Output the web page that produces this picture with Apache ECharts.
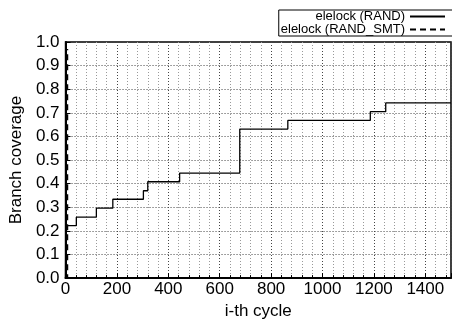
<!DOCTYPE html>
<html>
<head>
<meta charset="utf-8">
<script src="https://cdn.jsdelivr.net/npm/echarts@6/dist/echarts.min.js"></script>
<style>html,body{margin:0;padding:0;background:#fff}#c{width:452px;height:325px}</style>
</head>
<body>
<div id="c"></div>
<script>
// Data
var randCycles = [0, 1, 42, 120, 184, 303, 320, 444, 678, 865, 1186, 1246, 1500];
var randCoverage = [0, 0.222, 0.258, 0.296, 0.334, 0.37, 0.408, 0.445, 0.631, 0.668, 0.705, 0.742, 0.742];
var smtCycles = [0, 8, 8];
var smtCoverage = [0, 0, 0.97];
var seriesNames = ['elelock (RAND)', 'elelock (RAND_SMT)'];
var yTicks = ['0.0','0.1','0.2','0.3','0.4','0.5','0.6','0.7','0.8','0.9','1.0'];

function pairs(xs, ys) { return xs.map(function (x, i) { return [x, ys[i]]; }); }

var chart = echarts.init(document.getElementById('c'), null, {renderer: 'canvas'});
var font = 'Liberation Sans, Arial, sans-serif';
chart.setOption({
  animation: false,
  backgroundColor: '#fff',
  grid: {left: 64, right: 1, top: 42, bottom: 41, show: true, borderColor: '#000', borderWidth: 1.5, backgroundColor: 'transparent'},
  legend: {
    data: seriesNames,
    orient: 'vertical',
    align: 'right',
    right: -8,
    top: 10,
    itemGap: 0,
    itemWidth: 35,
    itemHeight: 12,
    padding: [0, 14, 0, 2],
    borderColor: '#000',
    borderWidth: 1,
    itemStyle: {color: 'transparent', borderWidth: 0, opacity: 0},
    textStyle: {fontFamily: font, fontSize: 13, color: '#000', lineHeight: 12}
  },
  xAxis: {
    type: 'value', min: 0, max: 1500, interval: 200,
    name: 'i-th cycle', nameLocation: 'middle', nameGap: 24,
    nameTextStyle: {fontFamily: font, fontSize: 17, color: '#000'},
    axisLine: {show: true, onZero: false, lineStyle: {color: '#000', width: 2}},
    axisTick: {show: true, inside: true, length: 5, lineStyle: {color: '#000'}},
    minorTick: {show: true, splitNumber: 5, length: 3, lineStyle: {color: '#000'}},
    axisLabel: {fontFamily: font, fontSize: 17, color: '#000', margin: 3, showMaxLabel: false,
      formatter: function (v) { return String(v); }},
    splitLine: {show: true, lineStyle: {color: '#444', type: [1, 2], width: 1}},
    minorSplitLine: {show: true, lineStyle: {color: '#999', type: [1, 2], width: 1}}
  },
  yAxis: {
    type: 'value', min: 0, max: 1, interval: 0.1,
    name: 'Branch coverage', nameLocation: 'middle', nameGap: 40,
    nameTextStyle: {fontFamily: font, fontSize: 17, color: '#000'},
    axisLine: {show: true, lineStyle: {color: '#000', width: 2}},
    axisTick: {show: true, inside: true, length: 5, lineStyle: {color: '#000'}},
    axisLabel: {fontFamily: font, fontSize: 17, color: '#000', margin: 6,
      formatter: function (v) { return yTicks[Math.round(v * 10)]; }},
    splitLine: {show: true, lineStyle: {color: '#444', type: [1, 2], width: 1}}
  },
  series: [
    {name: seriesNames[0], type: 'line', step: 'end', symbol: 'none',
     data: pairs(randCycles, randCoverage),
     lineStyle: {color: '#000', width: 1.3}, itemStyle: {color: '#000'}},
    {name: seriesNames[1], type: 'line', symbol: 'none',
     data: pairs(smtCycles, smtCoverage),
     lineStyle: {color: '#000', width: 1.3, type: [6, 4]}, itemStyle: {color: '#000'}}
  ]
});
</script>
</body>
</html>
